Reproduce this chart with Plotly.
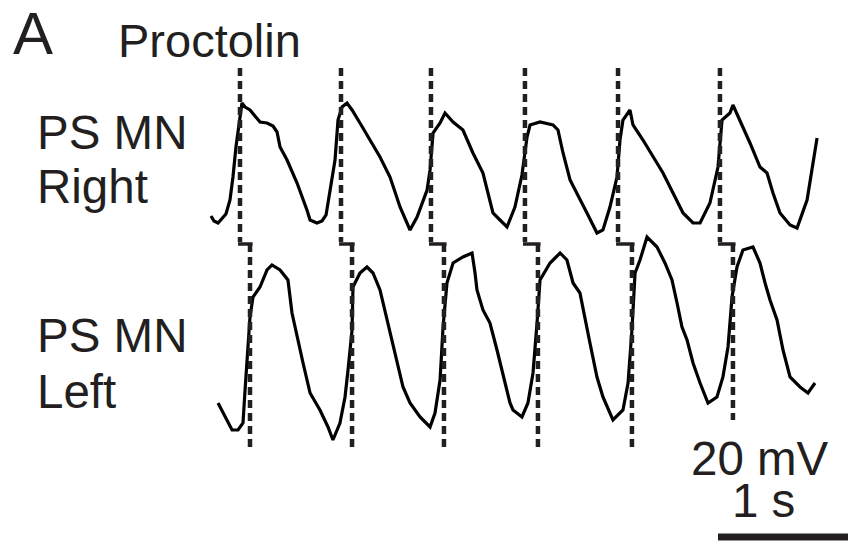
import plotly.graph_objects as go

# ---- data (time in s, membrane potential in mV) ----
right_t = [0.000, 0.023, 0.054, 0.085, 0.115, 0.146, 0.169, 0.192, 0.223, 0.238,
           0.262, 0.300, 0.338, 0.377, 0.431, 0.477, 0.508, 0.531, 0.585, 0.662,
           0.738, 0.762, 0.815, 0.854, 0.885, 0.915, 0.954, 0.977, 1.008, 1.046,
           1.085, 1.146, 1.223, 1.300, 1.377, 1.454, 1.531, 1.585, 1.662, 1.685,
           1.708, 1.762, 1.800, 1.862, 1.938, 2.015, 2.092, 2.169, 2.223, 2.277,
           2.338, 2.392, 2.431, 2.454, 2.531, 2.631, 2.669, 2.708, 2.762, 2.815,
           2.892, 2.969, 3.015, 3.069, 3.123, 3.146, 3.169, 3.223, 3.246, 3.323,
           3.400, 3.477, 3.554, 3.631, 3.708, 3.762, 3.838, 3.900, 3.931, 3.992,
           4.015, 4.069, 4.146, 4.223, 4.277, 4.323, 4.377, 4.454, 4.508, 4.585,
           4.623, 4.662]
right_mv = [-56.5, -57.75, -58.25, -57.0, -56.0, -52.5, -46.75, -39.25, -31.75, -28.25,
            -29.25, -30.0, -31.5, -33.0, -33.25, -34.0, -35.5, -39.25, -42.5, -48.25,
            -55.0, -57.5, -58.25, -57.75, -56.25, -50.75, -42.5, -32.5, -29.25, -28.25,
            -30.0, -33.25, -37.5, -41.75, -46.75, -54.25, -60.0, -56.75, -50.0, -45.0,
            -35.75, -33.25, -30.75, -33.0, -35.0, -40.75, -45.75, -55.75, -57.5, -59.25,
            -54.25, -46.25, -36.75, -33.75, -33.0, -33.75, -35.0, -40.75, -47.5, -50.75,
            -55.75, -60.75, -60.0, -54.25, -46.75, -37.5, -32.5, -30.0, -33.75, -37.5,
            -41.75, -45.75, -50.75, -55.75, -58.25, -58.25, -53.25, -44.25, -32.5, -30.75,
            -28.75, -32.5, -38.25, -44.25, -45.75, -50.75, -55.75, -58.75, -59.5, -52.5,
            -45.0, -37.0]

left_t = [0.054, 0.108, 0.162, 0.208, 0.246, 0.262, 0.285, 0.300, 0.323, 0.377,
          0.431, 0.469, 0.531, 0.592, 0.623, 0.662, 0.708, 0.762, 0.838, 0.900,
          0.938, 0.992, 1.031, 1.054, 1.085, 1.092, 1.146, 1.200, 1.246, 1.300,
          1.354, 1.392, 1.431, 1.477, 1.531, 1.608, 1.685, 1.723, 1.762, 1.785,
          1.815, 1.862, 1.938, 2.008, 2.031, 2.046, 2.092, 2.146, 2.200, 2.246,
          2.277, 2.300, 2.323, 2.392, 2.438, 2.477, 2.508, 2.531, 2.608, 2.685,
          2.738, 2.785, 2.838, 2.877, 2.915, 2.969, 3.015, 3.092, 3.169, 3.208,
          3.238, 3.262, 3.300, 3.354, 3.431, 3.492, 3.546, 3.585, 3.623, 3.662,
          3.708, 3.762, 3.823, 3.892, 3.938, 3.977, 4.008, 4.046, 4.092, 4.169,
          4.223, 4.262, 4.300, 4.354, 4.400, 4.454, 4.531, 4.592, 4.646]
left_mv = [-53.25, -56.75, -60.0, -60.0, -58.25, -50.0, -39.25, -31.75, -26.75, -24.25,
           -20.0, -18.75, -20.0, -22.5, -30.75, -36.75, -43.25, -50.75, -55.0, -59.25,
           -62.5, -58.25, -51.75, -45.0, -35.0, -24.25, -20.75, -19.25, -20.75, -25.0,
           -32.5, -37.5, -42.5, -49.25, -53.25, -56.75, -59.25, -55.75, -47.5, -34.25,
           -23.25, -18.25, -16.75, -15.75, -20.75, -25.0, -30.0, -33.25, -40.0, -45.75,
           -50.0, -53.25, -55.0, -56.75, -53.25, -45.75, -33.25, -22.5, -18.25, -15.75,
           -17.5, -23.25, -25.75, -32.5, -38.25, -46.75, -51.75, -57.5, -55.0, -48.25,
           -35.0, -20.75, -17.5, -11.75, -14.25, -18.25, -22.5, -28.25, -34.25, -37.5,
           -43.25, -48.25, -53.25, -51.75, -46.75, -39.25, -26.75, -19.25, -15.0, -14.25,
           -18.25, -23.25, -27.5, -32.5, -40.0, -46.75, -49.25, -50.75, -48.25]

# burst-onset markers (s)
right_onsets = [0.223, 1.000, 1.692, 2.415, 3.131, 3.915]
left_onsets = [0.300, 1.085, 1.792, 2.515, 3.238, 4.015]
right_marker_span = [-19.5, -63.0]          # mV, on the right-trace axis
left_marker_top = -13.5                     # mV, on the left-trace axis
left_marker_bottoms = [-64.25, -64.25, -64.25, -64.25, -64.25, -57.5]

# scale bar
scalebar_t = [3.900, 4.900]   # 1 s
scalebar_mv = -86.75

INK = "#231f20"
FONT = "Arial, Liberation Sans, sans-serif"

fig = go.Figure()

fig.add_trace(go.Scatter(x=right_t, y=right_mv, mode="lines", yaxis="y",
                         line=dict(color="black", width=3.2)))
fig.add_trace(go.Scatter(x=left_t, y=left_mv, mode="lines", yaxis="y2",
                         line=dict(color="black", width=3.2)))

for t in right_onsets:
    fig.add_trace(go.Scatter(x=[t, t], y=right_marker_span, mode="lines", yaxis="y",
                             line=dict(color=INK, width=4.5, dash="8px,5px")))
for tr, tl, yb in zip(right_onsets, left_onsets, left_marker_bottoms):
    fig.add_trace(go.Scatter(x=[tr - 0.015, tl + 0.02], y=[left_marker_top, left_marker_top],
                             mode="lines", yaxis="y2", line=dict(color=INK, width=3.5)))
    fig.add_trace(go.Scatter(x=[tl, tl], y=[left_marker_top, yb], mode="lines", yaxis="y2",
                             line=dict(color=INK, width=4.5, dash="8px,5px")))

fig.add_trace(go.Scatter(x=scalebar_t, y=[scalebar_mv, scalebar_mv], mode="lines", yaxis="y2",
                         line=dict(color=INK, width=7)))

W, H = 848, 541


def ann(text, xpx, ypx, size, xanchor="left"):
    fig.add_annotation(text=text, x=xpx / W, y=1 - ypx / H, xref="paper", yref="paper",
                       xanchor=xanchor, yanchor="middle", showarrow=False,
                       font=dict(family=FONT, size=size, color=INK))


ann("A", 32.5, 33.5, 60, "center")
ann("Proctolin", 116, 40, 47)
ann("PS MN", 35, 132.5, 47.5)
ann("Right", 35, 186, 47.5)
ann("PS MN", 35, 335, 47.5)
ann("Left", 35, 391, 47.5)
ann("20 mV", 760, 458.5, 47.5, "center")
ann("1 s", 763.5, 500, 47.5, "center")

fig.update_layout(
    width=W, height=H,
    margin=dict(l=0, r=0, t=0, b=0),
    paper_bgcolor="white", plot_bgcolor="white",
    showlegend=False,
    hovermode=False,
    xaxis=dict(range=[-1.6231, 4.9], visible=False, fixedrange=True),
    yaxis=dict(range=[-137.75, -2.5], visible=False, domain=[0, 1], fixedrange=True),
    yaxis2=dict(range=[-87.75, 47.5], visible=False, overlaying="y", fixedrange=True),
)

fig.write_html("out.html", config={"displayModeBar": False},
               post_script="document.body.style.margin='0px';document.body.style.padding='0px';")
